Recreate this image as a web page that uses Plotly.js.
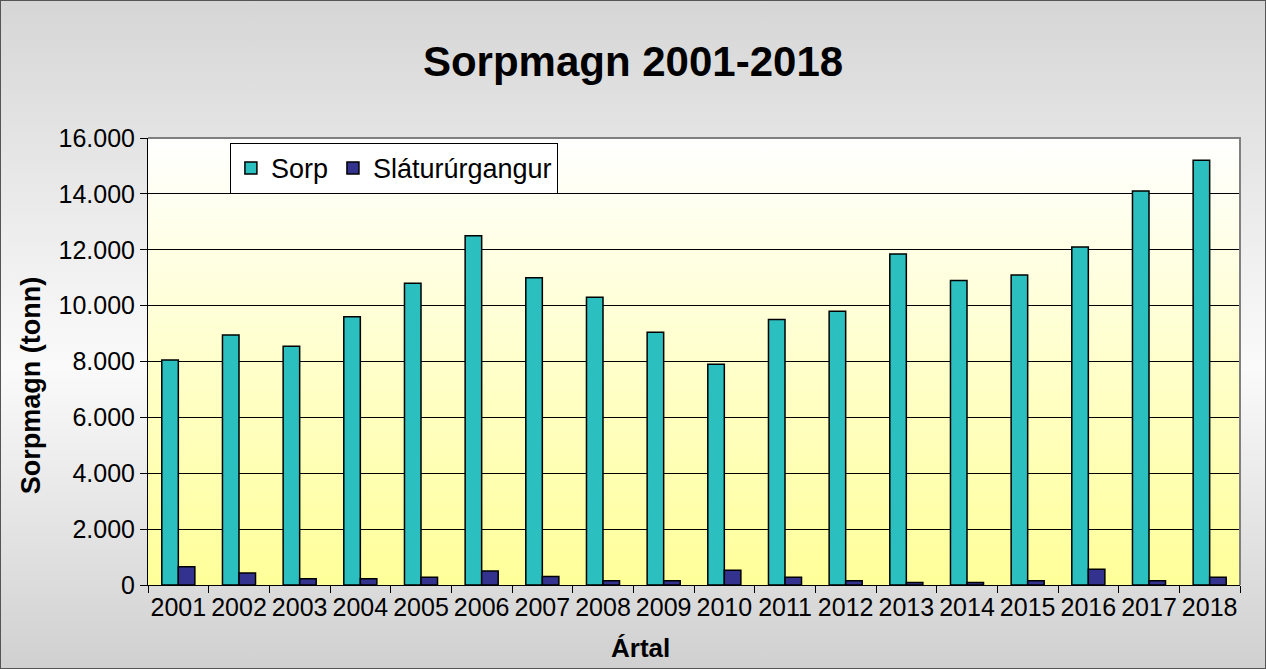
<!DOCTYPE html>
<html>
<head>
<meta charset="utf-8">
<script src="https://cdn.plot.ly/plotly-3.0.1.min.js"></script>
<style>
html, body { margin: 0; padding: 0; }
#wrap {
  width: 1266px; height: 669px; box-sizing: border-box;
  border: 1px solid #555;
  background: linear-gradient(to bottom, #d6d6d6 0%, #f4f4f4 45%, #fafafa 55%, #d0d0d0 100%);
}
#chart { width: 1264px; height: 667px; }
</style>
</head>
<body>
<div id="wrap"><div id="chart"></div></div>
<script>
const years = ['2001','2002','2003','2004','2005','2006','2007','2008','2009','2010','2011','2012','2013','2014','2015','2016','2017','2018'];
const sorp = [8050, 8950, 8550, 9600, 10800, 12500, 11000, 10300, 9050, 7900, 9500, 9800, 11850, 10900, 11100, 12100, 14100, 15200];
const slatur = [650, 430, 220, 220, 280, 500, 300, 150, 150, 530, 280, 150, 90, 90, 150, 560, 150, 280];
const yTicks = [0, 2000, 4000, 6000, 8000, 10000, 12000, 14000, 16000];

const gradSvg = '<svg xmlns="http://www.w3.org/2000/svg" width="100" height="100" preserveAspectRatio="none">' +
  '<defs><linearGradient id="g" x1="0" y1="0" x2="0" y2="1">' +
  '<stop offset="0" stop-color="#ffffff"/><stop offset="1" stop-color="#ffff99"/>' +
  '</linearGradient></defs><rect width="100" height="100" fill="url(#g)"/></svg>';
const gradUri = 'data:image/svg+xml;charset=utf-8,' + encodeURIComponent(gradSvg);

const traces = [
  { type: 'bar', name: 'Sorp', x: years, y: sorp,
    marker: { color: '#2bbfbf', line: { color: '#000000', width: 1.5 } } },
  { type: 'bar', name: 'Sláturúrgangur', x: years, y: slatur,
    marker: { color: '#33338f', line: { color: '#000000', width: 1.5 } } }
];

const layout = {
  width: 1264, height: 667,
  paper_bgcolor: 'rgba(0,0,0,0)',
  plot_bgcolor: 'rgba(0,0,0,0)',
  separators: ',.',
  margin: { l: 147, r: 25, t: 137, b: 83 },
  font: { family: 'Arial, Liberation Sans, sans-serif', color: '#000000' },
  title: { text: '<b>Sorpmagn 2001-2018</b>', x: 0.5, xanchor: 'center', y: 0.909, yanchor: 'middle', yref: 'container',
    font: { size: 42, color: '#000000' } },
  barmode: 'group', bargap: 0.455, bargroupgap: 0,
  xaxis: {
    type: 'category', tickson: 'boundaries', ticks: 'outside', ticklen: 7, tickcolor: '#000',
    showline: true, linecolor: '#000', linewidth: 1, showgrid: false,
    tickfont: { size: 25 }, tickangle: 0
  },
  yaxis: {
    range: [0, 16000], tickvals: yTicks, tickformat: ',d', ticks: 'outside', ticklen: 7, tickcolor: '#000',
    showline: true, linecolor: '#000', linewidth: 1,
    showgrid: true, gridcolor: '#000', gridwidth: 1, zeroline: false,
    tickfont: { size: 25 }
  },
  annotations: [
    { text: '<b>Sorpmagn (tonn)</b>', xref: 'paper', yref: 'paper', x: -0.107, y: 0.445,
      xanchor: 'center', yanchor: 'middle', textangle: -90, showarrow: false, font: { size: 27 } },
    { text: '<b>Ártal</b>', xref: 'paper', yref: 'paper', x: 0.451, y: -0.179,
      xanchor: 'center', yanchor: 'bottom', showarrow: false, font: { size: 26 } }
  ],
  legend: {
    orientation: 'h', x: 0.075, y: 0.989, xanchor: 'left', yanchor: 'top',
    bgcolor: '#ffffff', bordercolor: '#000000', borderwidth: 1,
    font: { size: 27 }, traceorder: 'normal'
  },
  images: [{ source: gradUri, xref: 'paper', yref: 'paper', x: 0, y: 1, sizex: 1, sizey: 1,
    xanchor: 'left', yanchor: 'top', sizing: 'stretch', layer: 'below' }],
  shapes: [
    { type: 'path', xref: 'paper', yref: 'paper', path: 'M 0 1 L 1 1 L 1 0',
      line: { color: '#808080', width: 2 }, layer: 'above' }
  ],
  showlegend: true
};

Plotly.newPlot('chart', traces, layout, { displayModeBar: false, staticPlot: true });
</script>
</body>
</html>
